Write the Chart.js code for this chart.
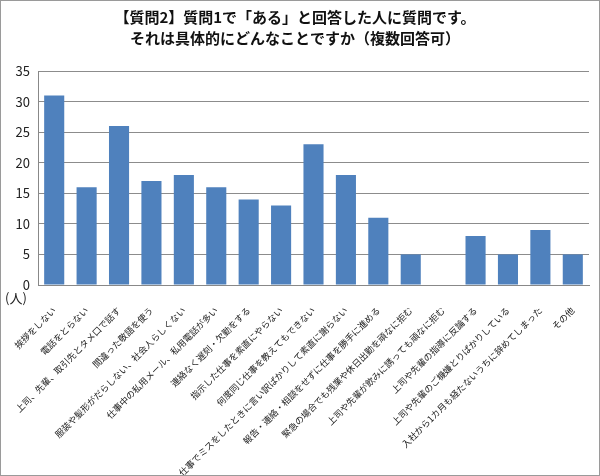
<!DOCTYPE html>
<html>
<head>
<meta charset="utf-8">
<script src="https://cdn.jsdelivr.net/npm/chart.js@4.4.1/dist/chart.umd.min.js"></script>
<style>
  html,body{margin:0;padding:0;background:#fff;}
  .wrap{width:600px;height:476px;box-sizing:border-box;border:1px solid #9a9a9a;position:relative;}
  canvas{display:block;}
</style>
</head>
<body>
<div class="wrap"><canvas id="c" width="598" height="474"></canvas></div>
<script>
const categories = [
  '挨拶をしない',
  '電話をとらない',
  '上司、先輩、取引先とタメ口で話す',
  '間違った敬語を使う',
  '服装や髪形がだらしない、社会人らしくない',
  '仕事中の私用メール、私用電話が多い',
  '連絡なく遅刻・欠勤をする',
  '指示した仕事を素直にやらない',
  '何度同じ仕事を教えてもできない',
  '仕事でミスをしたときに言い訳ばかりして素直に謝らない',
  '報告・連絡・相談をせずに仕事を勝手に進める',
  '緊急の場合でも残業や休日出勤を頑なに拒む',
  '上司や先輩が飲みに誘っても頑なに拒む',
  '上司や先輩の指導に反論する',
  '上司や先輩のご機嫌とりばかりしている',
  '入社から1カ月も経たないうちに辞めてしまった',
  'その他'
];
const counts = [31, 16, 26, 17, 18, 16, 14, 13, 23, 18, 11, 5, 0, 8, 5, 9, 5];
const titleLines = ['【質問2】質問1で「ある」と回答した人に質問です。', 'それは具体的にどんなことですか（複数回答可）'];
const unitLabel = '(人)';

const font = '"Noto Sans CJK JP", "Noto Sans", sans-serif';

const unitPlugin = {
  id:'unit',
  afterDraw(chart){
    const ctx = chart.ctx, y = chart.scales.y;
    ctx.save();
    ctx.font = '13px ' + font;
    ctx.fillStyle = '#222';
    ctx.textAlign = 'left';
    ctx.textBaseline = 'middle';
    ctx.fillText(unitLabel, 4, y.getPixelForValue(0) + 13);
    ctx.restore();
  }
};

new Chart(document.getElementById('c'), {
  type:'bar',
  data:{ labels:categories, datasets:[{ data:counts, backgroundColor:'#4f81bd', barPercentage:0.62, categoryPercentage:1 }] },
  options:{
    responsive:false,
    animation:false,
    layout:{ padding:{ left:0, right:10, top:0, bottom:0 } },
    plugins:{
      legend:{ display:false },
      tooltip:{ enabled:false },
      title:{ display:true, text:titleLines, color:'#111', font:{ family:font, size:15, weight:'bold', lineHeight:1.4 }, padding:{ top:6, bottom:22 } }
    },
    scales:{
      x:{
        grid:{ display:false },
        border:{ color:'#888' },
        ticks:{ color:'#222', font:{ family:font, size:9 }, maxRotation:45, minRotation:45, autoSkip:false, padding:12 },
        afterFit(s){ s.height = 190; }
      },
      y:{
        min:0, max:35,
        grid:{ color:'#8c8c8c', drawTicks:false },
        border:{ color:'#888' },
        ticks:{ stepSize:5, color:'#222', font:{ family:font, size:13 }, padding:8 },
        afterFit(s){ s.width = 37; }
      }
    }
  },
  plugins:[unitPlugin]
});
</script>
</body>
</html>
